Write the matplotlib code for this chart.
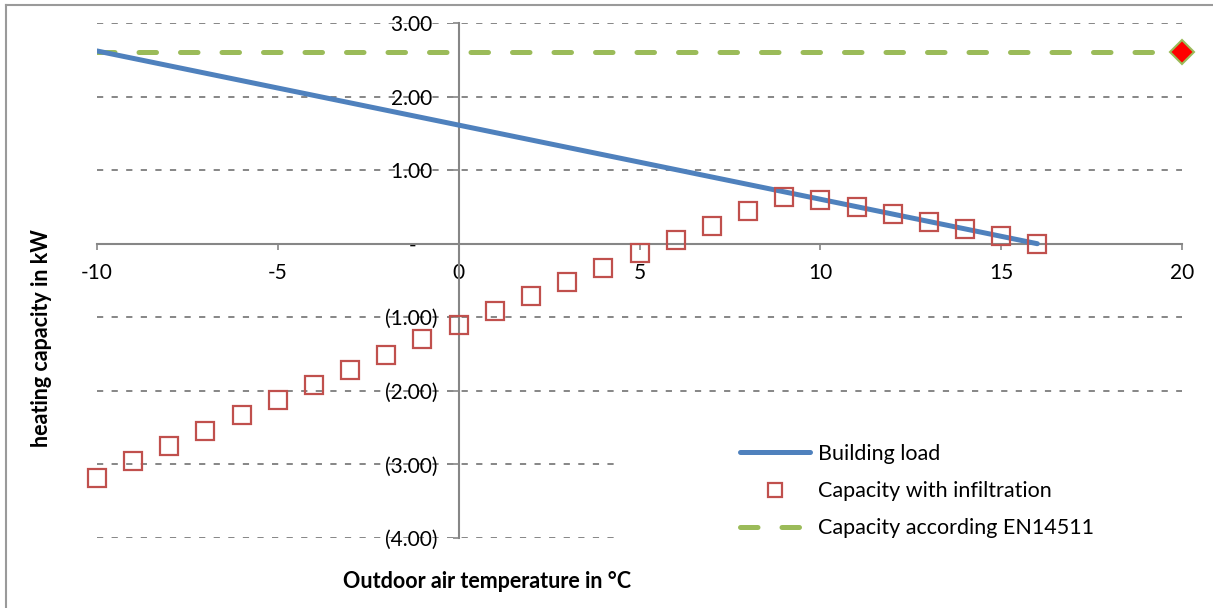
import numpy as np
import matplotlib; matplotlib.use('Agg')
import matplotlib.pyplot as plt
from matplotlib.ticker import FuncFormatter
from matplotlib.patches import Rectangle
from matplotlib.lines import Line2D

plt.rcParams['font.family'] = ['Lato', 'DejaVu Sans']
plt.rcParams['axes.unicode_minus'] = False

# data
load_t = [-10, 16]
load_kw = [2.62, 0.0]
infil_t = list(range(-10, 17))
infil_kw = [-3.18, -2.96, -2.75, -2.54, -2.33, -2.12, -1.92, -1.71, -1.51, -1.30,
            -1.11, -0.91, -0.71, -0.52, -0.33, -0.12, 0.05, 0.24, 0.44, 0.63,
            0.60, 0.50, 0.40, 0.30, 0.20, 0.10, 0.0]
en_t = [-10, 20]
en_kw = [2.61, 2.61]
en_point_t = [20]
en_point_kw = [2.61]

W, H = 1213, 608
fig = plt.figure(figsize=(W/100, H/100), dpi=100)
ax = fig.add_axes([97/W, 1-538/H, (1182-97)/W, (538-23)/H])

gray = '#868686'
ax.plot(en_t, en_kw, color='#9BBB59', lw=3.6, dashes=(3.5, 4.8), dash_capstyle='round',
        label='Capacity according EN14511', zorder=3)
ax.plot(en_point_t, en_point_kw, ls='none', marker='D', ms=12, mfc='#FF0000', mec='#9BBB59',
        mew=1.5, clip_on=False, zorder=5)
ax.plot(load_t, load_kw, color='#4F81BD', lw=3.6, solid_capstyle='round', label='Building load', zorder=3)
ax.plot(infil_t, infil_kw, ls='none', marker='s', ms=13, mfc='none', mec='#C0504D', mew=1.6,
        label='Capacity with infiltration', zorder=4, clip_on=False)

ax.set_xlim(-10, 20); ax.set_ylim(-4, 3)
ax.set_xticks(range(-10, 21, 5))
ax.set_yticks(range(-4, 4))
def yfmt(v, pos):
    if abs(v) < 1e-9: return '-    '
    if v < 0: return f'({abs(v):.2f})'
    return f'{v:.2f} '
ax.yaxis.set_major_formatter(FuncFormatter(yfmt))
ax.grid(axis='y', color=gray, lw=1.4, dashes=(3.2, 4.3))
ax.set_axisbelow('line')

for s in ['top', 'right']: ax.spines[s].set_visible(False)
ax.spines['left'].set_position(('data', 0))
ax.spines['bottom'].set_position(('data', 0))
for s in ['left', 'bottom']:
    ax.spines[s].set_color(gray); ax.spines[s].set_linewidth(1.5)
ax.tick_params(axis='both', colors=gray, labelcolor='black', labelsize=15, length=4, width=1.2)
ax.tick_params(axis='x', direction='out', pad=10)
ax.tick_params(axis='y', direction='out', pad=11)

# white legend area hides gridlines
ax.add_patch(Rectangle((4.3, -4.3), 16, 1.75, facecolor='white', edgecolor='none', zorder=1.6, clip_on=False))

h, l = ax.get_legend_handles_labels()
order = [1, 2, 0]
ax.legend([h[i] for i in order], [l[i] for i in order], loc='upper left',
          bbox_to_anchor=(740/W, 1-444/H), bbox_transform=fig.transFigure,
          frameon=False, fontsize=15.5, handlelength=3.25, handletextpad=0.35,
          labelspacing=0.8, borderpad=0, borderaxespad=0, numpoints=1, markerscale=0.75)

fig.text(42/W, 1-338/H, 'heating capacity in kW', rotation=90, ha='center', va='center',
         fontsize=15.5, fontweight='bold')
fig.text(487/W, 1-582/H, 'Outdoor air temperature in °C', ha='center', va='center',
         fontsize=15.5, fontweight='bold')

fig.add_artist(Line2D([6/W, 6/W], [0, 1-5/H], transform=fig.transFigure, color='#9a9a9a', lw=1.5))
fig.add_artist(Line2D([6/W, 1], [1-5/H, 1-5/H], transform=fig.transFigure, color='#9a9a9a', lw=1.5))

fig.savefig('out.png', dpi=100)
